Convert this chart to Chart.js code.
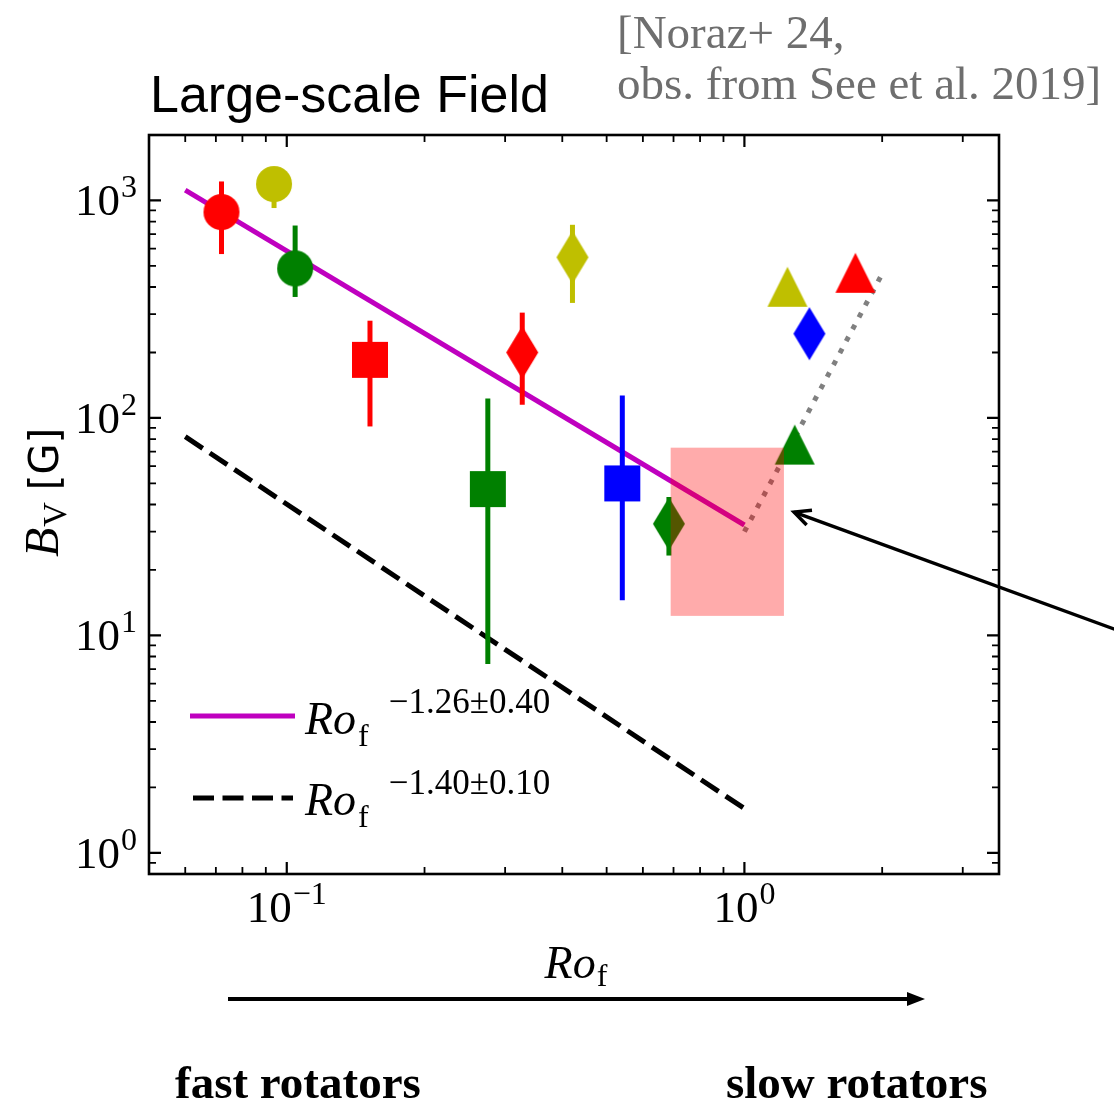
<!DOCTYPE html>
<html>
<head>
<meta charset="utf-8">
<script src="https://cdn.jsdelivr.net/npm/chart.js@4/dist/chart.umd.min.js"></script>
<style>
  html, body { margin: 0; padding: 0; background: #ffffff; }
  canvas { display: block; }
</style>
</head>
<body>
<canvas id="chart" width="1114" height="1106"></canvas>
<script>
// Observed stars: fluid Rossby number and large-scale field strength B_V [G]
const starRo     = [0.072, 0.0938, 0.1043, 0.152, 0.327, 0.421, 0.275, 0.541, 0.684, 1.242, 1.748, 1.387, 1.288];
const starBv     = [885, 1190, 487, 185, 200, 548, 47.1, 50.0, 32.6, 401, 465, 244, 75.4];
const starBvLow  = [567, 923, 360, 91.4, 115, 338, 7.4, 14.5, 23.3, null, null, null, null];
const starBvHigh = [1223, 1400, 767, 280, 305, 773, 123, 127, 43.3, null, null, null, null];
const starShape  = ['circle', 'circle', 'circle', 'square', 'diamond', 'diamond', 'square', 'square', 'diamond',
                    'triangle', 'triangle', 'diamond', 'triangle'];
const starColor  = ['#ff0000', '#bfbf00', '#008000', '#ff0000', '#ff0000', '#bfbf00', '#008000', '#0000ff', '#008000',
                    '#bfbf00', '#ff0000', '#0000ff', '#008000'];

// Power-law fits (end points) and the slow-rotator branch
const simFitRo = [0.06, 1.0];
const simFitBv = [1116, 32.2];
const obsFitRo = [0.06, 1.0];
const obsFitBv = [82, 1.6];
const slowBranchRo = [1.0, 2.0];
const slowBranchBv = [30, 460];

// Shaded transition region
const regionRo = [0.69, 1.22];
const regionBv = [12.3, 73];

// Annotation arrow pointing at the region: [tail, head] in data units
const pointerRo = [7.4, 1.284];
const pointerBv = [9.6, 36.9];

// Axis limits and labelled decades
const xLimits = [0.05, 3.6];
const yLimits = [0.8, 2000];
const xTickExponents = [-1, 0];
const yTickExponents = [0, 1, 2, 3];

const legendLabels = [
  { sup: '\u22121.26\u00b10.40' },
  { sup: '\u22121.40\u00b10.10' }
];

const SERIF = '"Liberation Serif", "Times New Roman", serif';
const SANS = '"Liberation Sans", Arial, sans-serif';

// Marker glyphs rendered once and handed to Chart.js as point styles
function makeMarker(shape, color) {
  const c = document.createElement('canvas');
  let w, h;
  if (shape === 'diamond') { w = 34; h = 55; }
  else if (shape === 'triangle') { w = 42; h = 42; }
  else { w = 38; h = 38; }
  c.width = w; c.height = h;
  const g = c.getContext('2d');
  g.fillStyle = color;
  g.beginPath();
  if (shape === 'circle') {
    g.arc(w / 2, h / 2, 18, 0, Math.PI * 2);
  } else if (shape === 'square') {
    g.rect(1, 1, 36, 36);
  } else if (shape === 'diamond') {
    g.moveTo(w / 2, 1); g.lineTo(w - 1, h / 2); g.lineTo(w / 2, h - 1); g.lineTo(1, h / 2);
  } else {
    g.moveTo(w / 2, 1); g.lineTo(w - 1, h - 1); g.lineTo(1, h - 1);
  }
  g.closePath();
  g.fill();
  return c;
}

const datasets = [];

// markers (drawn on top)
datasets.push({
  label: 'stars',
  data: starRo.map((r, i) => ({ x: r, y: starBv[i] })),
  pointStyle: starShape.map((s, i) => makeMarker(s, starColor[i])),
  pointRadius: 18,
  showLine: false,
  order: 0
});

// error bars
starRo.forEach((r, i) => {
  if (starBvLow[i] == null) return;
  datasets.push({
    label: 'err' + i,
    data: [{ x: r, y: starBvLow[i] }, { x: r, y: starBvHigh[i] }],
    showLine: true,
    borderColor: starColor[i],
    borderWidth: 5,
    borderCapStyle: 'butt',
    pointRadius: 0,
    order: 1
  });
});

// fit lines
datasets.push({
  label: 'fit-sim',
  data: simFitRo.map((r, i) => ({ x: r, y: simFitBv[i] })),
  showLine: true, borderColor: '#bf00bf', borderWidth: 5, pointRadius: 0, order: 2
});
datasets.push({
  label: 'fit-obs',
  data: obsFitRo.map((r, i) => ({ x: r, y: obsFitBv[i] })),
  showLine: true, borderColor: '#000000', borderWidth: 5, borderDash: [21, 8.5],
  borderCapStyle: 'butt', pointRadius: 0, order: 2
});
datasets.push({
  label: 'slow-branch',
  data: slowBranchRo.map((r, i) => ({ x: r, y: slowBranchBv[i] })),
  showLine: true, borderColor: '#808080', borderWidth: 5, borderDash: [5, 8.5],
  borderCapStyle: 'butt', pointRadius: 0, order: 2
});

// text made of runs with their own font and baseline shift
function runsWidth(ctx, items) {
  let w = 0;
  for (const it of items) { ctx.font = it.font; w += (it.dx || 0) + ctx.measureText(it.text).width; }
  return w;
}
function drawRuns(ctx, x, y, items) {
  let cx = x;
  for (const it of items) {
    ctx.font = it.font;
    cx += it.dx || 0;
    ctx.fillText(it.text, cx, y + (it.dy || 0));
    cx += ctx.measureText(it.text).width;
  }
  return cx;
}
function powerLabel(exp) {
  const e = exp < 0 ? '\u2212' + Math.abs(exp) : String(exp);
  return [
    { text: '10', font: '45px ' + SERIF },
    { text: e, font: '32px ' + SERIF, dy: -18, dx: 1 }
  ];
}

function logTicks(lo, hi) {
  const major = [], minor = [];
  for (let k = Math.floor(Math.log10(lo)); k <= Math.ceil(Math.log10(hi)); k++) {
    for (let m = 1; m <= 9; m++) {
      const v = m * Math.pow(10, k);
      if (v < lo * 0.999 || v > hi * 1.001) continue;
      (m === 1 ? major : minor).push(v);
    }
  }
  return { major, minor };
}

const decor = {
  id: 'decor',
  afterDatasetsDraw(chart) {
    const { ctx, chartArea: a } = chart;
    const xs = chart.scales.x, ys = chart.scales.y;
    ctx.save();

    // shaded region
    const rx0 = xs.getPixelForValue(regionRo[0]), rx1 = xs.getPixelForValue(regionRo[1]);
    const ry0 = ys.getPixelForValue(regionBv[1]), ry1 = ys.getPixelForValue(regionBv[0]);
    ctx.fillStyle = 'rgba(255,0,0,0.33)';
    ctx.fillRect(rx0, ry0, rx1 - rx0, ry1 - ry0);

    // ticks on all four sides, pointing inward
    ctx.strokeStyle = '#000';
    const xt = logTicks(xLimits[0], xLimits[1]);
    const yt = logTicks(yLimits[0], yLimits[1]);
    const tick = (list, len, lw, horizontal) => {
      ctx.lineWidth = lw;
      ctx.beginPath();
      for (const v of list) {
        if (horizontal) {
          const px = xs.getPixelForValue(v);
          ctx.moveTo(px, a.bottom); ctx.lineTo(px, a.bottom - len);
          ctx.moveTo(px, a.top); ctx.lineTo(px, a.top + len);
        } else {
          const py = ys.getPixelForValue(v);
          ctx.moveTo(a.left, py); ctx.lineTo(a.left + len, py);
          ctx.moveTo(a.right, py); ctx.lineTo(a.right - len, py);
        }
      }
      ctx.stroke();
    };
    tick(xt.major, 12, 2.2, true);
    tick(xt.minor, 7, 1.8, true);
    tick(yt.major, 12, 2.2, false);
    tick(yt.minor, 7, 1.8, false);

    // frame
    ctx.lineWidth = 2.6;
    ctx.strokeRect(a.left, a.top, a.right - a.left, a.bottom - a.top);

    // tick labels
    ctx.fillStyle = '#000';
    ctx.textBaseline = 'alphabetic';
    ctx.textAlign = 'left';
    for (const e of xTickExponents) {
      const items = powerLabel(e);
      const w = runsWidth(ctx, items);
      drawRuns(ctx, xs.getPixelForValue(Math.pow(10, e)) - w / 2, a.bottom + 48, items);
    }
    for (const e of yTickExponents) {
      const items = powerLabel(e);
      const w = runsWidth(ctx, items);
      drawRuns(ctx, a.left - 12 - w, ys.getPixelForValue(Math.pow(10, e)) + 15, items);
    }

    // axis titles
    const xTitle = [
      { text: 'Ro', font: 'italic 46px ' + SERIF },
      { text: 'f', font: '32px ' + SERIF, dy: 8, dx: 1 }
    ];
    const xw = runsWidth(ctx, xTitle);
    drawRuns(ctx, (a.left + a.right) / 2 - xw / 2 + 2, 978, xTitle);

    const yTitle = [
      { text: 'B', font: 'italic 48px ' + SERIF },
      { text: 'V', font: '34px ' + SERIF, dy: 8, dx: 1 },
      { text: '[G]', font: '40px "DejaVu Sans", sans-serif', dx: 12 }
    ];
    const yw = runsWidth(ctx, yTitle);
    ctx.save();
    ctx.translate(58, (a.top + a.bottom) / 2 + yw / 2 - 12);
    ctx.rotate(-Math.PI / 2);
    drawRuns(ctx, 0, 0, yTitle);
    ctx.restore();

    // legend
    const legendRows = [
      { y: 716, color: '#bf00bf', dash: [], x0: 190, x1: 295, base: 734 },
      { y: 798, color: '#000000', dash: [21, 8.5], x0: 193, x1: 293, base: 815 }
    ];
    legendRows.forEach((row, i) => {
      ctx.save();
      ctx.strokeStyle = row.color;
      ctx.lineWidth = 5;
      ctx.lineCap = 'butt';
      ctx.setLineDash(row.dash);
      ctx.beginPath(); ctx.moveTo(row.x0, row.y); ctx.lineTo(row.x1, row.y); ctx.stroke();
      ctx.restore();
      const end = drawRuns(ctx, 305, row.base, [
        { text: 'Ro', font: 'italic 46px ' + SERIF },
        { text: 'f', font: '32px ' + SERIF, dy: 12, dx: 2 }
      ]);
      drawRuns(ctx, end + 20, row.base - 21, [{ text: legendLabels[i].sup, font: '35px ' + SERIF }]);
    });

    // pointer arrow towards the shaded region
    const tx = xs.getPixelForValue(pointerRo[0]), ty = ys.getPixelForValue(pointerBv[0]);
    const hx = xs.getPixelForValue(pointerRo[1]), hy = ys.getPixelForValue(pointerBv[1]);
    const ang = Math.atan2(ty - hy, tx - hx);
    ctx.strokeStyle = '#000';
    ctx.lineWidth = 3.5;
    ctx.lineCap = 'butt';
    ctx.lineJoin = 'miter';
    ctx.beginPath();
    ctx.moveTo(tx, ty); ctx.lineTo(hx, hy);
    ctx.stroke();
    const arm = 18, spread = 0.45;
    ctx.beginPath();
    ctx.moveTo(hx + arm * Math.cos(ang + spread), hy + arm * Math.sin(ang + spread));
    ctx.lineTo(hx, hy);
    ctx.lineTo(hx + arm * Math.cos(ang - spread), hy + arm * Math.sin(ang - spread));
    ctx.stroke();

    // title and reference
    ctx.fillStyle = '#000';
    ctx.font = '52px ' + SANS;
    ctx.fillText('Large-scale Field', 150, 112);
    ctx.fillStyle = '#6e6e6e';
    ctx.font = '47px ' + SERIF;
    ctx.fillText('[Noraz+ 24,', 617, 48);
    ctx.fillText('obs. from See et al. 2019]', 617, 99);

    // rotation direction arrow and captions
    ctx.strokeStyle = '#000';
    ctx.fillStyle = '#000';
    ctx.lineWidth = 4;
    ctx.beginPath(); ctx.moveTo(228, 999); ctx.lineTo(910, 999); ctx.stroke();
    ctx.beginPath(); ctx.moveTo(925, 999); ctx.lineTo(907, 992); ctx.lineTo(907, 1006); ctx.closePath(); ctx.fill();
    ctx.font = 'bold 47px ' + SERIF;
    ctx.fillText('fast rotators', 175, 1098);
    ctx.fillText('slow rotators', 726, 1098);

    ctx.restore();
  }
};

new Chart(document.getElementById('chart'), {
  type: 'scatter',
  data: { datasets },
  options: {
    responsive: false,
    animation: false,
    devicePixelRatio: 1,
    events: [],
    layout: { padding: { left: 149, top: 135, right: 115, bottom: 232 } },
    scales: {
      x: { type: 'logarithmic', min: xLimits[0], max: xLimits[1], bounds: 'data', display: false },
      y: { type: 'logarithmic', min: yLimits[0], max: yLimits[1], bounds: 'data', display: false }
    },
    plugins: {
      legend: { display: false },
      tooltip: { enabled: false },
      title: { display: false }
    }
  },
  plugins: [decor]
});
</script>
</body>
</html>
